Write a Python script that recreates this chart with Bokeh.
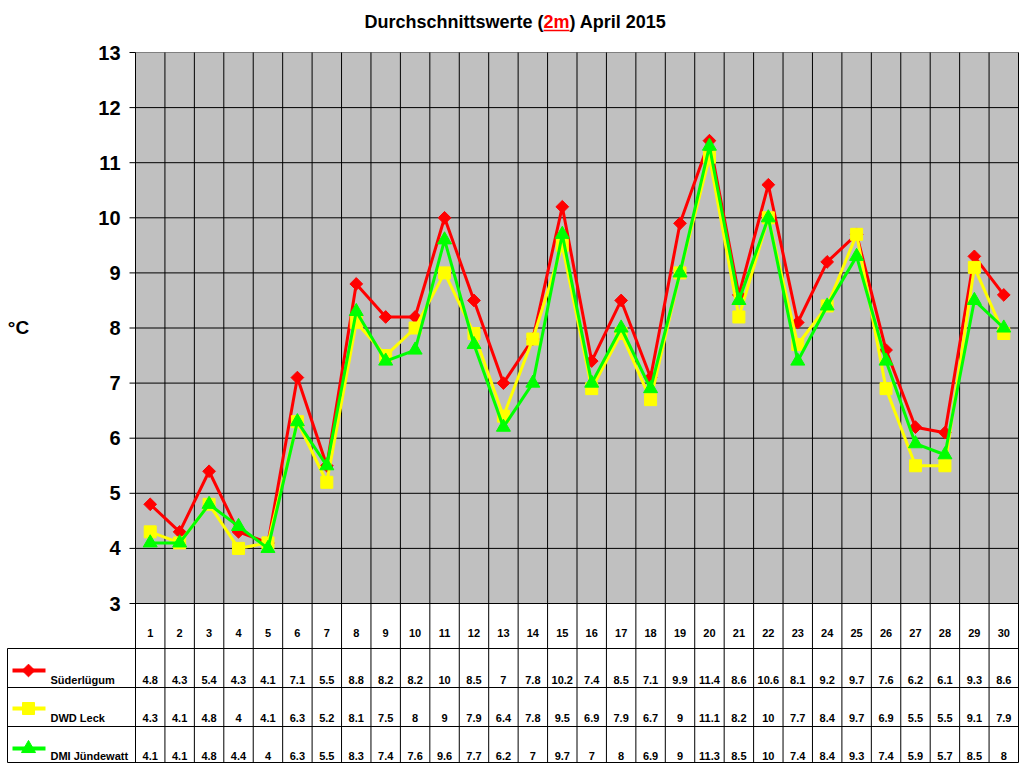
import math
from bokeh.plotting import figure
from bokeh.models import Range1d
from bokeh.core.properties import value
from bokeh.embed import file_html
from bokeh.resources import INLINE

days = list(range(1, 31))
suederluegum = [4.8, 4.3, 5.4, 4.3, 4.1, 7.1, 5.5, 8.8, 8.2, 8.2, 10, 8.5, 7, 7.8, 10.2,
                7.4, 8.5, 7.1, 9.9, 11.4, 8.6, 10.6, 8.1, 9.2, 9.7, 7.6, 6.2, 6.1, 9.3, 8.6]
dwd_leck = [4.3, 4.1, 4.8, 4, 4.1, 6.3, 5.2, 8.1, 7.5, 8, 9, 7.9, 6.4, 7.8, 9.5,
            6.9, 7.9, 6.7, 9, 11.1, 8.2, 10, 7.7, 8.4, 9.7, 6.9, 5.5, 5.5, 9.1, 7.9]
dmi_juendewatt = [4.1, 4.1, 4.8, 4.4, 4, 6.3, 5.5, 8.3, 7.4, 7.6, 9.6, 7.7, 6.2, 7, 9.7,
                  7, 8, 6.9, 9, 11.3, 8.5, 10, 7.4, 8.4, 9.3, 7.4, 5.9, 5.7, 8.5, 8]
series_names = ["Süderlügum", "DWD Leck", "DMI Jündewatt"]
y_ticks = list(range(3, 14))
title_parts = ["Durchschnittswerte (", "2m", ") April 2015"]
y_unit = "°C"

FONT = value("Liberation Sans")
RED, YEL, GRN = "#FF0000", "#FFFF00", "#00FF00"

# ---- layout: pixel positions converted through the data scales ----
W, H = 1022, 766
PX_DAY = (1018 - 135) / 30.0
PX_UNIT = (603 - 52) / 10.0
Y_MIN, Y_MAX = y_ticks[0], y_ticks[-1]


def dx(px):
    return days[0] - 0.5 + (px - 135) / PX_DAY


def dy(py):
    return Y_MIN - (py - 603) / PX_UNIT


XL, XR = days[0] - 0.5, days[-1] + 0.5

p = figure(width=W, height=H, x_range=Range1d(dx(0), dx(W)), y_range=Range1d(dy(H), dy(0)),
           x_axis_location=None, y_axis_location=None, output_backend="svg",
           toolbar_location=None, min_border=0)
p.min_border_left = p.min_border_right = p.min_border_top = p.min_border_bottom = 0
p.outline_line_color = None
p.background_fill_color = "white"
p.border_fill_color = "white"
p.grid.visible = False

# plot area
p.quad(left=[XL], right=[XR], bottom=[Y_MIN], top=[Y_MAX], fill_color="#C0C0C0", line_color=None)
p.segment(x0=[XL], x1=[XR], y0=[Y_MAX], y1=[Y_MAX], line_color="#808080", line_width=1)
p.segment(x0=[XL] * (len(y_ticks) - 1), x1=[XR] * (len(y_ticks) - 1), y0=y_ticks[:-1],
          y1=y_ticks[:-1], line_color="black", line_width=1)
bounds = [d - 0.5 for d in days] + [days[-1] + 0.5]
p.segment(x0=bounds, x1=bounds, y0=[dy(762)] * len(bounds), y1=[Y_MAX] * len(bounds),
          line_color="black", line_width=1)
# y ticks + labels
p.segment(x0=[dx(129)] * len(y_ticks), x1=[XL] * len(y_ticks), y0=y_ticks, y1=y_ticks,
          line_color="black", line_width=1)
p.text(x=[dx(120)] * len(y_ticks), y=y_ticks, text=[str(t) for t in y_ticks], text_font=FONT,
       text_font_style="bold", text_font_size="20px", text_align="right", text_baseline="middle")
p.text(x=[dx(18)], y=[dy(327)], text=[y_unit], text_font=FONT, text_font_style="bold",
       text_font_size="19px", text_align="center", text_baseline="middle")

# title
ty = dy(21)
p.text(x=[dx(543)], y=[ty], text=[title_parts[0]], text_font=FONT, text_font_style="bold",
       text_font_size="18px", text_align="right", text_baseline="middle")
p.text(x=[dx(543)], y=[ty], text=[title_parts[1]], text_font=FONT, text_font_style="bold",
       text_font_size="18px", text_align="left", text_baseline="middle", text_color=RED)
p.text(x=[dx(569)], y=[ty], text=[title_parts[2]], text_font=FONT, text_font_style="bold",
       text_font_size="18px", text_align="left", text_baseline="middle")
p.segment(x0=[dx(543)], x1=[dx(569)], y0=[dy(30)], y1=[dy(30)], line_color=RED, line_width=1.5)

# table grid
row_lines = [dy(648), dy(687), dy(726), dy(762)]
p.segment(x0=[dx(7)] * 4, x1=[XR] * 4, y0=row_lines, y1=row_lines, line_color="black", line_width=1)
p.segment(x0=[dx(7)], x1=[dx(7)], y0=[dy(648)], y1=[dy(762)], line_color="black", line_width=1)

# day numbers
p.text(x=days, y=[dy(632)] * len(days), text=[str(d) for d in days], text_font=FONT,
       text_font_style="bold", text_font_size="11px", text_align="center", text_baseline="middle")

styles = [(RED, "square", 9, math.pi / 4), (YEL, "square", 12, 0), (GRN, "triangle", 14, 0)]
all_series = [suederluegum, dwd_leck, dmi_juendewatt]

# series lines
for vals, (col, mk, sz, ang) in zip(all_series, styles):
    p.line(days, vals, line_color=col, line_width=3)
    p.scatter(days, vals, marker=mk, size=sz, angle=ang, fill_color=col, line_color=col)

# table rows
row_y = [dy(679), dy(717), dy(755)]
sample_y = [dy(670), dy(708), dy(748)]
for vals, name, ry, sy, (col, mk, sz, ang) in zip(all_series, series_names, row_y, sample_y, styles):
    p.text(x=days, y=[ry] * len(days), text=[f"{v:g}" for v in vals], text_font=FONT,
           text_font_style="bold", text_font_size="11px", text_align="center",
           text_baseline="middle")
    p.line([dx(12), dx(45)], [sy, sy], line_color=col, line_width=4)
    p.scatter([dx(28)], [sy], marker=mk, size=sz, angle=ang, fill_color=col, line_color=col)
    p.text(x=[dx(50)], y=[ry], text=[name], text_font=FONT, text_font_style="bold",
           text_font_size="11px", text_align="left", text_baseline="middle")

open("out.html", "w").write(file_html(p, INLINE))
